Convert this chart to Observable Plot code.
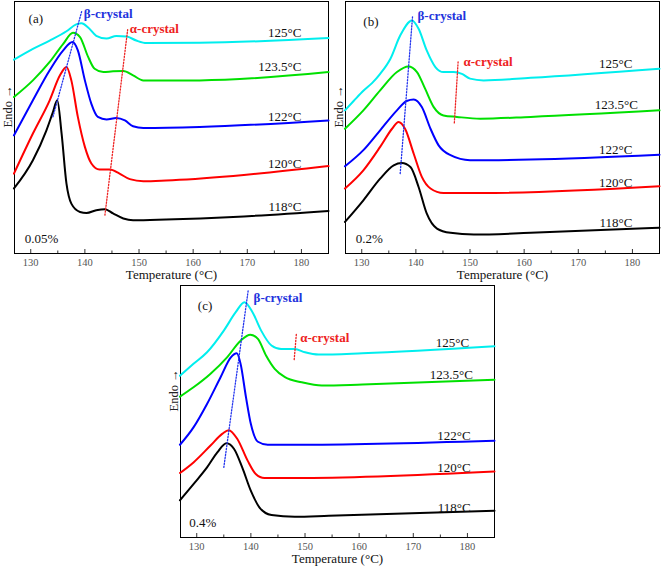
<!DOCTYPE html>
<html><head><meta charset="utf-8">
<script src="https://cdn.jsdelivr.net/npm/d3@7"></script>
<script src="https://cdn.jsdelivr.net/npm/@observablehq/plot@0.6"></script>
<style>
body{margin:0;background:#fff;}
#wrap{position:relative;width:661px;height:569px;background:#fff;overflow:hidden;}
#wrap svg{position:absolute;}
#wrap svg text{font-family:"Liberation Serif","Times New Roman",serif;}
</style></head>
<body><div id="wrap"></div>
<script>
// ---- shared ----
const temps = ["118°C", "120°C", "122°C", "123.5°C", "125°C"];
const colors = ["#000000", "#ff0000", "#0000ff", "#00e000", "#00eeee"];
const xDomain = [127, 185];
const majorTicks = [130, 140, 150, 160, 170, 180];
const minorTicks = [135, 145, 155, 165, 175];
const SERIF = '"Liberation Serif", "Times New Roman", serif';

// ---- panel (a) 0.05% ----  [temperature, signal]
const a118 = [[126.9,25.8],[130.4,37],[132.9,48.9],[134.1,56.1],[134.9,60.8],[135.7,47.6],[136.6,27.7],[137.5,19.8],[139.1,16.5],[140.3,16.1],[142.1,17.2],[143.7,17.6],[145.2,15.9],[147.1,13.9],[148.9,13.2],[155,13.5],[167.4,14.5],[185,16.9]];
const a120 = [[126.9,31.7],[130.4,47.6],[133.5,60.8],[135.4,70.7],[136.6,74],[137.5,68.7],[138.7,54.2],[140,42.3],[141.2,35.7],[142.7,33.3],[144.6,33.3],[146.4,31.7],[148.3,29.5],[150.8,28.7],[155,29],[167.4,30.8],[185,34.7]];
const a122 = [[126.9,46.9],[130.4,60.8],[133.5,72.7],[136,80.6],[137.7,83.9],[138.7,80.6],[140,68.7],[141.2,59.4],[142.4,54.2],[144,53.2],[145.8,53.8],[147.4,52.8],[148.9,50.5],[150.8,49.8],[161.2,50.2],[185,52.8]];
const a1235 = [[126.9,62.1],[130.4,68.7],[133.5,76],[136,83.2],[137.8,87.6],[139.1,85.9],[140.6,78],[141.8,73.3],[143.4,72],[145.2,72.3],[147.1,72.4],[148.9,70.7],[150.8,68.7],[161.2,68.7],[185,72]];
const a125 = [[126.9,76.9],[130.4,81.2],[133.5,84.5],[136.6,88.2],[138.4,90.9],[139.4,91.4],[140.6,89.7],[142.1,86.4],[144,85.3],[145.8,86.3],[147.7,86.1],[149.5,84.5],[151.4,83.5],[161.2,83.6],[185,85.5]];
const aBeta = [[134.1,54.2],[139.4,96]];
const aAlpha = [[143.7,15.2],[147.9,88.8]];
const aLabelY = [18.5, 35.7, 54.2, 74, 87.6];
const aLabelX = [180, 180, 180, 180, 180];

// ---- panel (b) 0.2% ----
const b118 = [[126.9,12.5],[130.3,21.1],[133.4,29.7],[135.9,35],[137.4,35.9],[139,34.3],[140.5,26.4],[142,15.9],[143.9,9.9],[146.4,8.2],[150.7,7.5],[161.2,8.2],[185,10.2]];
const b120 = [[126.9,25.8],[130.3,33],[133.4,42.3],[135.6,49.5],[136.8,52.2],[138,49.5],[139.6,39.6],[141.1,30.4],[142.7,25.8],[145.1,24],[151.9,24],[185,26.7]];
const b122 = [[126.9,34.6],[130.3,41],[133.4,48.9],[136.5,56.8],[138.3,60.5],[139.6,61.1],[141.1,58.1],[142.7,49.5],[144.2,42.9],[146.4,39],[150,37],[161.2,37.3],[185,39.2]];
const b1235 = [[126.9,49.5],[130.3,56.8],[133.4,64.7],[136.5,72],[138.6,74.2],[140.2,72],[141.7,65.4],[143.3,58.1],[145.1,54.8],[147.6,54.2],[151.9,53.5],[161.2,54.2],[185,56.8]];
const b125 = [[126.9,56.8],[128.5,60.5],[130.3,64.6],[131.9,67.6],[133.4,71.3],[135.3,77.3],[137.1,86.5],[139.3,92.5],[140.5,89.2],[142,80.6],[143.6,74],[145.1,72],[147,72],[148.5,71.3],[150,69.4],[152.5,68.7],[161.2,69.7],[185,73.3]];
const bBeta = [[137.1,31.7],[139.4,94.5]];
const bAlpha = [[147.1,51.8],[147.8,76]];
const bLabelY = [12.2, 28, 41, 58.8, 75.3];
const bLabelX = [180, 180, 180, 181, 180];

// ---- panel (c) 0.4% ----
const c118 = [[126.9,14.8],[129.4,21.2],[131.9,27.8],[133.8,33.8],[135.5,37.4],[136.9,35.1],[138.4,27.8],[140,18.5],[141.6,11.9],[143.8,8.9],[148.1,8.2],[154.4,8.6],[185,10.6]];
const c120 = [[126.9,25.6],[129.4,29.8],[132.5,36.4],[134.7,41.1],[135.9,42.6],[137.5,39.1],[139.4,30.5],[140.9,25.2],[142.5,23.6],[148.1,23.6],[185,26.2]];
const c122 = [[126.9,36.8],[129.4,43.7],[131.9,53],[134.4,63.6],[136.3,71.5],[137.4,73.1],[138.1,68.9],[139.1,55.6],[140,45],[141.3,38],[143.1,36.8],[148.1,36.8],[185,38.4]];
const c1235 = [[126.9,55.9],[129.4,59.6],[132.5,64.9],[135.6,71.5],[138.1,78.1],[139.9,80.5],[141.3,78.8],[142.8,72.2],[144.4,66.9],[146.3,63.6],[149.4,61.6],[153.1,60.3],[160.6,60.7],[185,62.6]];
const c125 = [[126.9,64.2],[129.4,68.9],[131.9,73.5],[135,82.1],[137.2,89.4],[138.8,93.4],[140.3,89.4],[141.9,82.1],[143.8,76.2],[145.6,74.8],[148.1,74.8],[150,73.5],[152.5,72.6],[160.6,73.1],[185,75.9]];
const cBeta = [[135,27.8],[139.5,98]];
const cAlpha = [[148,70.6],[148.4,80.8]];
const cLabelY = [11.9, 27.5, 40.4, 64.5, 77.1];
const cLabelX = [180.6, 180.6, 180.6, 181, 180.3];

function panel(o) {
  const series = [o.s118, o.s120, o.s122, o.s1235, o.s125];
  const rows = series.flatMap((s, i) => s.map(([t, v]) => ({t, v, k: temps[i]})));
  const labels = temps.map((k, i) => ({k, t: o.labelX[i], v: o.labelY[i]}));
  return Plot.plot({
    width: o.width, height: o.height,
    marginLeft: 14, marginRight: 2, marginTop: 1, marginBottom: o.marginBottom,
    style: {fontFamily: SERIF, background: "transparent", overflow: "visible"},
    x: {domain: xDomain},
    y: {domain: [0, 100], axis: null},
    color: {domain: temps, range: colors},
    marks: [
      Plot.frame({stroke: "#000", strokeWidth: 1}),
      Plot.axisX(majorTicks, {tickSize: -4, text: null, label: null, stroke: "#333"}),
      Plot.axisX(minorTicks, {tickSize: -2.5, text: null, label: null, stroke: "#333"}),
      Plot.axisX(majorTicks, {tickSize: 0, tickPadding: 5, fontSize: 10.5, fill: "#555", fontFamily: SERIF, label: null}),
      Plot.text(["Temperature (°C)"], {frameAnchor: "bottom", dy: 25, fontSize: 13, fill: "#111", fontFamily: SERIF}),
      Plot.text(["Endo →"], {frameAnchor: "left", rotate: -90, dx: -7, fontSize: 12.5, fill: "#222", fontFamily: SERIF}),
      Plot.line(rows, {x: "t", y: "v", z: "k", stroke: "k", strokeWidth: 2, curve: "monotone-x"}),
      Plot.line(o.beta, {x: d => d[0], y: d => d[1], stroke: "#2233ee", strokeWidth: 1.3, strokeDasharray: "1.3,1.7"}),
      Plot.line(o.alpha, {x: d => d[0], y: d => d[1], stroke: "#ee2222", strokeWidth: 1.3, strokeDasharray: "1.3,1.7"}),
      Plot.text(labels, {x: "t", y: "v", text: "k", textAnchor: "end", fontSize: 13, fill: "#111", fontFamily: SERIF}),
      Plot.text([o.betaLabel], {x: d => d[0], y: d => d[1], text: () => "β-crystal", textAnchor: "start", fontWeight: "bold", fontSize: 13, fill: "#2233dd", fontFamily: SERIF}),
      Plot.text([o.alphaLabel], {x: d => d[0], y: d => d[1], text: () => "α-crystal", textAnchor: "start", fontWeight: "bold", fontSize: 13, fill: "#ee2222", fontFamily: SERIF}),
      Plot.text([o.tag], {x: d => d[0], y: d => d[1], text: d => d[2], textAnchor: "start", fontSize: 13, fill: "#111", fontFamily: SERIF}),
      Plot.text([o.conc], {x: d => d[0], y: d => d[1], text: d => d[2], textAnchor: "start", fontSize: 13, fill: "#111", fontFamily: SERIF})
    ]
  });
}

const wrap = document.getElementById("wrap");
function place(svg, left, top) { svg.style.left = left + "px"; svg.style.top = top + "px"; wrap.appendChild(svg); }

place(panel({width: 330, height: 290, marginBottom: 37,
  s118: a118, s120: a120, s122: a122, s1235: a1235, s125: a125,
  beta: aBeta, alpha: aAlpha, labelX: aLabelX, labelY: aLabelY,
  betaLabel: [139.8, 95.1], alphaLabel: [148.3, 89.2],
  tag: [129.6, 93, "(a)"], conc: [128.9, 5.9, "0.05%"]}), 0, 0);

place(panel({width: 330, height: 290, marginBottom: 37,
  s118: b118, s120: b120, s122: b122, s1235: b1235, s125: b125,
  beta: bBeta, alpha: bAlpha, labelX: bLabelX, labelY: bLabelY,
  betaLabel: [140.3, 94.5], alphaLabel: [148.8, 76.2],
  tag: [130.3, 91.8, "(b)"], conc: [128.9, 5.9, "0.2%"]}), 331, 0);

place(panel({width: 330, height: 285, marginBottom: 32,
  s118: c118, s120: c120, s122: c122, s1235: c1235, s125: c125,
  beta: cBeta, alpha: cAlpha, labelX: cLabelX, labelY: cLabelY,
  betaLabel: [140.5, 95.1], alphaLabel: [149.1, 79.2],
  tag: [130.2, 92, "(c)"], conc: [128.6, 6, "0.4%"]}), 166, 284);
</script></body></html>
